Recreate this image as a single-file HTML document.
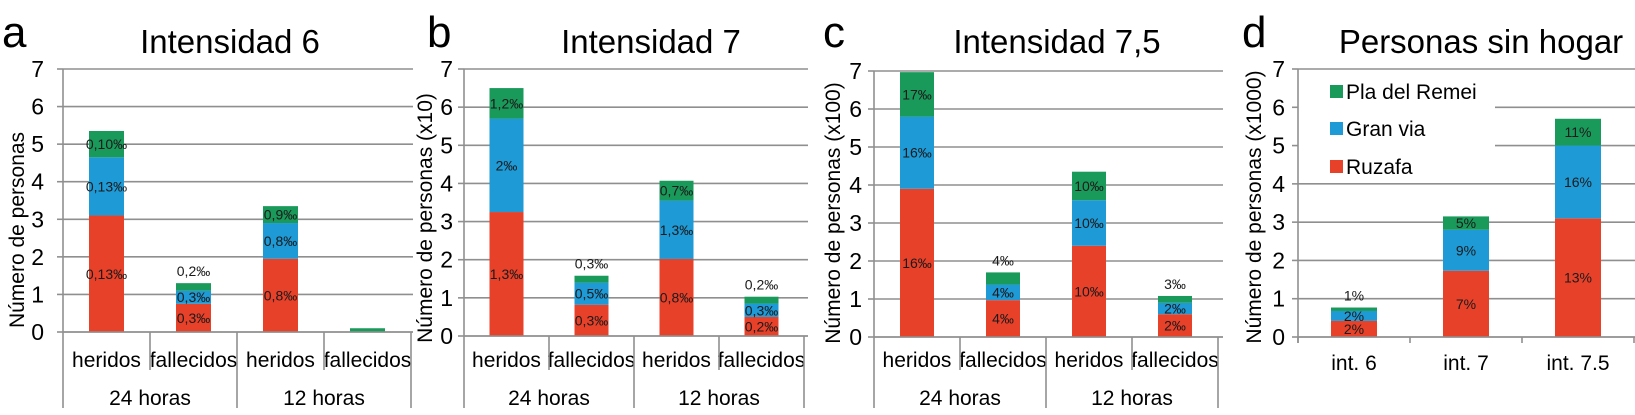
<!DOCTYPE html>
<html><head><meta charset="utf-8">
<style>
html,body{margin:0;padding:0;background:#fff;}
svg{display:block;font-family:"Liberation Sans",Arial,sans-serif;}
</style></head>
<body>
<svg id="chart" width="1635" height="415" viewBox="0 0 1635 415" xmlns="http://www.w3.org/2000/svg">
  <text x="2" y="47" font-size="44">a</text>
  <text x="230" y="53" font-size="33" text-anchor="middle">Intensidad 6</text>
  <text x="427" y="47" font-size="44">b</text>
  <text x="651" y="53" font-size="33" text-anchor="middle">Intensidad 7</text>
  <text x="823" y="47" font-size="44">c</text>
  <text x="1057" y="53" font-size="33" text-anchor="middle">Intensidad 7,5</text>
  <text x="1242" y="47" font-size="44">d</text>
  <text x="1481" y="53" font-size="33" text-anchor="middle">Personas sin hogar</text>
</svg>
<script>
// ---- data ----
const seriesNames = ["Ruzafa", "Gran via", "Pla del Remei"];
const yTicks = [0,1,2,3,4,5,6,7];
const subCategories = ["heridos","fallecidos","heridos","fallecidos"];
const groupCategories = ["24 horas","12 horas"];
const homelessCategories = ["int. 6","int. 7","int. 7.5"];

// panel a (personas)
const aRuzafa = [3.1, 0.75, 1.95, 0];
const aGranVia = [1.55, 0.35, 0.95, 0];
const aPla = [0.7, 0.2, 0.45, 0.1];
const aLabels = [["0,13‰","0,13‰","0,10‰"],["0,3‰","0,3‰","0,2‰"],["0,8‰","0,8‰","0,9‰"],["","",""]];
// panel b (x10)
const bRuzafa = [3.25, 0.82, 2.02, 0.5];
const bGranVia = [2.45, 0.58, 1.53, 0.35];
const bPla = [0.8, 0.18, 0.52, 0.18];
const bLabels = [["1,3‰","2‰","1,2‰"],["0,3‰","0,5‰","0,3‰"],["0,8‰","1,3‰","0,7‰"],["0,2‰","0,3‰","0,2‰"]];
// panel c (x100)
const cRuzafa = [3.9, 0.97, 2.4, 0.6];
const cGranVia = [1.9, 0.41, 1.2, 0.3];
const cPla = [1.17, 0.32, 0.75, 0.18];
const cLabels = [["16‰","16‰","17‰"],["4‰","4‰","4‰"],["10‰","10‰","10‰"],["2‰","2‰","3‰"]];
// panel d (x1000)
const dRuzafa = [0.42, 1.73, 3.1];
const dGranVia = [0.26, 1.07, 1.9];
const dPla = [0.09, 0.35, 0.7];
const dLabels = [["2%","2%","1%"],["7%","9%","5%"],["13%","16%","11%"]];

const colors = ["#e8412a","#1e9ad6","#1a9a5a"];
const svg = document.getElementById('chart');
const NS = "http://www.w3.org/2000/svg";
function mk(tag, attrs, text){
  const e = document.createElementNS(NS, tag);
  for (const k in attrs) e.setAttribute(k, attrs[k]);
  if (text !== undefined) e.textContent = text;
  svg.appendChild(e);
  return e;
}

function panel(p, series, labels, cats, groups, yTitle){
  const yScale = v => p.y0 - (p.y0 - p.y7) * v / 7;
  yTicks.forEach(t => {
    const y = yScale(t);
    const x1 = (p.gridSkip && p.gridSkip.includes(t)) ? p.gridSkipTo : p.ax;
    const g = mk('line',{x1:x1,y1:y,x2:p.right,y2:y,stroke:"#8f8f8f","stroke-width":1.6});
    
    
    const tk = mk('line',{x1:p.ax-6,y1:y,x2:p.ax,y2:y,stroke:"#8f8f8f","stroke-width":1.6});
    
    
    const tl = mk('text',{x:p.tickX,y:y+8,"font-size":23,"text-anchor":"end"}, String(t));
    
    
  });
  const yt = mk('text',{x:0,y:0,"font-size":21,"text-anchor":"middle",transform:`translate(${p.titleX},${p.titleY}) rotate(-90)`}, yTitle);
  
  
  const yl = mk('line',{x1:p.ax,y1:p.y7,x2:p.ax,y2:groups ? 408 : p.y0+6,stroke:"#8f8f8f","stroke-width":1.6});
  
  
  cats.forEach((c,i) => {
    const cx = p.ax + p.catW*(i+0.5);
    const bx = cx - p.barW/2;
    let base = 0;
    const total = series[0][i]+series[1][i]+series[2][i];
    series.forEach((s,k) => {
      const v = s[i];
      if (v > 0){
        const r = mk('rect',{x:bx,y:yScale(base+v),width:p.barW,height:yScale(base)-yScale(base+v),fill:colors[k]});
        
        
      }
      const lab = labels[i][k];
      if (lab){
        let ly = yScale(base + v/2) + 5;
        if (k === 2 && total < 2) ly = yScale(total) - 7;
        const t = mk('text',{x:cx,y:ly,"font-size":14,"text-anchor":"middle",fill:"#1a1a1a"}, lab);
        
        
      }
      base += v;
    });
    const cl = mk('text',{x:cx,y:groups?367:370,"font-size":21,"text-anchor":"middle"}, c);
    
    
  });
  const xl = mk('line',{x1:p.ax,y1:p.y0,x2:p.right,y2:p.y0,stroke:"#8f8f8f","stroke-width":1.6});
  
  
  if (groups){
    for (let i=1;i<=cats.length;i++){
      const x = p.ax + p.catW*i;
      const isGroup = (i % 2 === 0);
      const sl = mk('line',{x1:x,y1:p.y0,x2:x,y2:isGroup?408:370,stroke:"#8f8f8f","stroke-width":1.6});
      
      
    }
    groups.forEach((g,j) => {
      const gl = mk('text',{x:p.ax + p.catW*(2*j+1),y:405,"font-size":21,"text-anchor":"middle"}, g);
      
      
    });
  } else {
    for (let i=0;i<=cats.length;i++){
      const x = p.ax + p.catW*i;
      const tk = mk('line',{x1:x,y1:p.y0,x2:x,y2:p.y0+6,stroke:"#8f8f8f","stroke-width":1.6});
      
      
    }
  }
}

panel({ax:63,y0:332,y7:69,catW:87,barW:35,right:413,tickX:44,titleX:24,titleY:230},
      [aRuzafa,aGranVia,aPla], aLabels, subCategories, groupCategories, "Número de personas");
panel({ax:464,y0:336,y7:69,catW:85,barW:34,right:808,tickX:453,titleX:432,titleY:218},
      [bRuzafa,bGranVia,bPla], bLabels, subCategories, groupCategories, "Número de personas (x10)");
panel({ax:874,y0:337,y7:71,catW:86,barW:34,right:1223,tickX:862,titleX:840,titleY:213},
      [cRuzafa,cGranVia,cPla], cLabels, subCategories, groupCategories, "Número de personas (x100)");
panel({ax:1298,y0:337,y7:69,catW:112,barW:46,right:1635,tickX:1285,titleX:1261,titleY:207,gridSkip:[5,6],gridSkipTo:1495},
      [dRuzafa,dGranVia,dPla], dLabels, homelessCategories, null, "Número de personas (x1000)");

const legendY = [167,129,92];
seriesNames.forEach((n,k) => {
  const sq = mk('rect',{x:1330,y:legendY[k]-7,width:13,height:13,fill:colors[k]});
  
  
  const t = mk('text',{x:1346,y:legendY[k]+7,"font-size":21}, n);
  
  
});
</script>
</body></html>
